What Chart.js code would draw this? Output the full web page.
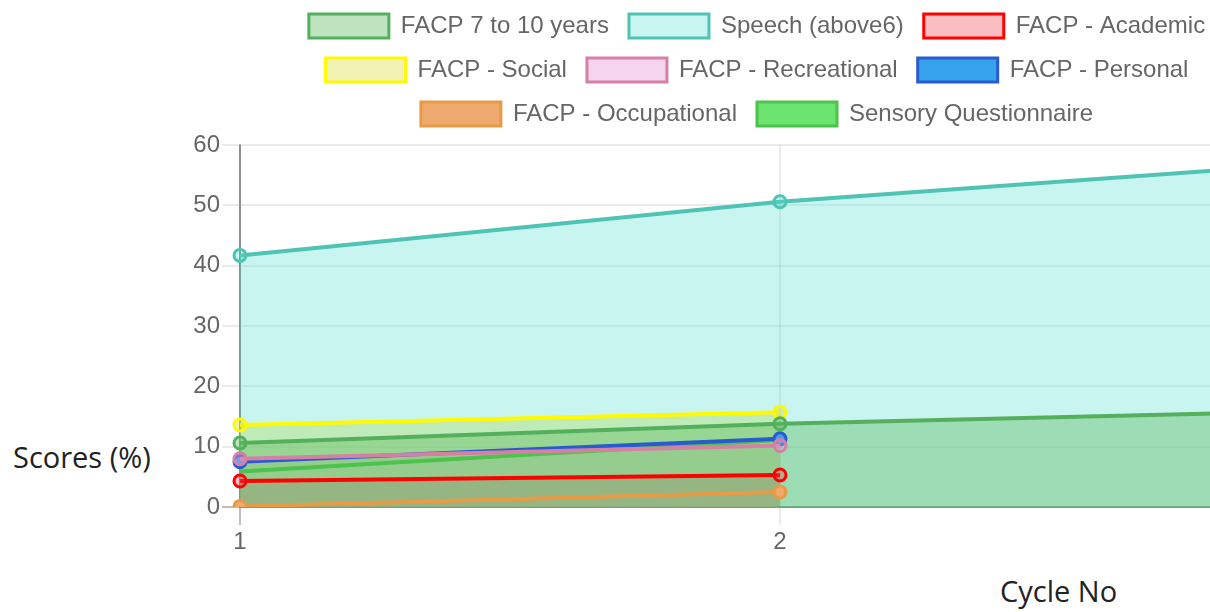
<!DOCTYPE html>
<html>
<head>
<meta charset="utf-8">
<title>Scores by Cycle</title>
<script src="https://cdn.jsdelivr.net/npm/chart.js@4.4.0/dist/chart.umd.min.js"></script>
<style>
    html, body { margin: 0; padding: 0; width: 1210px; height: 612px; overflow: hidden; background: #fff; }
    .chart-box { position: absolute; left: 194px; top: -6px; width: 1145px; height: 563px; }
    .axis-title {
        position: absolute;
        font-family: 'Open Sans', 'Noto Sans', sans-serif;
        font-size: 29px;
        line-height: 1;
        color: #222;
        white-space: nowrap;
    }
    #yTitle { left: 13px; top: 442px; }
    #xTitle { left: 1000px; top: 576px; }
</style>
</head>
<body>
<div class="axis-title" id="yTitle">Scores (%)</div>
<div class="chart-box"><canvas id="scoresChart"></canvas></div>
<div class="axis-title" id="xTitle">Cycle No</div>

<script>
// ============================================================
// DATA
// ============================================================
const cycles = ['1', '2', '3'];

const facp7to10 = [10.6, 13.8, 15.9];
const speechAbove6 = [41.7, 50.6, 57.0];
const facpAcademic = [4.3, 5.3];
const facpSocial = [13.6, 15.7];
const facpRecreational = [8.0, 10.2];
const facpPersonal = [7.5, 11.3];
const facpOccupational = [0.1, 2.5];
const sensoryQuestionnaire = [5.9, 11.1];

const yTicks = [0, 10, 20, 30, 40, 50, 60];

(function () {
    'use strict';

    // ============================================================
    // HELPERS
    // ============================================================
    function series(label, data, border, bg, filled, radius) {
        return {
            label: label,
            data: data,
            borderColor: border,
            backgroundColor: bg,
            pointBackgroundColor: bg,
            pointBorderColor: border,
            borderWidth: 4,
            pointRadius: radius,
            pointBorderWidth: 3,
            tension: 0,
            fill: filled ? 'origin' : false
        };
    }

    // push the plot down a little below the legend
    const legendGap = {
        id: 'legendGap',
        beforeInit(chart) {
            const fit = chart.legend.fit;
            chart.legend.fit = function () {
                fit.call(this);
                this.height += 9;
            };
        }
    };

    Chart.defaults.font.family = "'Helvetica Neue', Helvetica, Arial, sans-serif";
    Chart.defaults.font.size = 24;
    Chart.defaults.color = '#666';

    // ============================================================
    // RENDER CHART
    // ============================================================
    const ctx = document.getElementById('scoresChart');

    new Chart(ctx, {
        type: 'line',
        data: {
            labels: cycles,
            datasets: [
                series('FACP 7 to 10 years', facp7to10, 'rgb(84,176,92)', 'rgba(92,184,92,0.4)', true, 6),
                series('Speech (above6)', speechAbove6, 'rgb(80,196,180)', 'rgba(75,222,205,0.3)', true, 6),
                series('FACP - Academic', facpAcademic, 'rgb(255,0,0)', 'rgba(240,70,80,0.35)', true, 6),
                series('FACP - Social', facpSocial, 'rgb(255,250,0)', 'rgba(220,220,60,0.4)', true, 6),
                series('FACP - Recreational', facpRecreational, 'rgb(214,128,164)', 'rgba(230,150,210,0.4)', true, 6),
                series('FACP - Personal', facpPersonal, 'rgb(40,90,210)', 'rgb(54,162,235)', false, 6),
                series('FACP - Occupational', facpOccupational, 'rgb(232,155,70)', 'rgb(238,170,110)', false, 6),
                series('Sensory Questionnaire', sensoryQuestionnaire, 'rgb(76,196,76)', 'rgb(108,228,112)', false, 0)
            ]
        },
        options: {
            responsive: true,
            maintainAspectRatio: false,
            animation: false,
            devicePixelRatio: 1,
            layout: { padding: { right: 19 } },
            plugins: {
                filler: { drawTime: 'beforeDatasetsDraw' },
                tooltip: { enabled: false },
                legend: {
                    position: 'top',
                    labels: {
                        boxWidth: 80,
                        boxHeight: 24,
                        padding: 20,
                        color: '#666',
                        generateLabels(chart) {
                            const items = Chart.defaults.plugins.legend.labels.generateLabels(chart);
                            items.forEach(item => { item.lineWidth = 3; });
                            return items;
                        }
                    }
                }
            },
            scales: {
                x: {
                    afterFit(scale) { scale.height = 50; },
                    grid: {
                        color: (c) => c.index === 0 ? 'rgba(0,0,0,0.25)' : 'rgba(0,0,0,0.08)',
                        lineWidth: 2,
                        tickLength: 18
                    },
                    border: { color: 'rgba(0,0,0,0.25)', width: 2 },
                    ticks: { padding: 3, color: '#666' }
                },
                y: {
                    min: 0,
                    max: 60,
                    afterFit(scale) { scale.width = 46; },
                    afterBuildTicks(scale) {
                        scale.ticks = yTicks.map(v => ({ value: v }));
                    },
                    grid: {
                        color: (c) => c.index === 0 ? 'rgba(0,0,0,0.25)' : 'rgba(0,0,0,0.08)',
                        lineWidth: 2,
                        tickLength: 18
                    },
                    border: { color: 'rgba(0,0,0,0.25)', width: 2 },
                    ticks: { padding: 2, color: '#666' }
                }
            }
        },
        plugins: [legendGap]
    });
})();
</script>
</body>
</html>
